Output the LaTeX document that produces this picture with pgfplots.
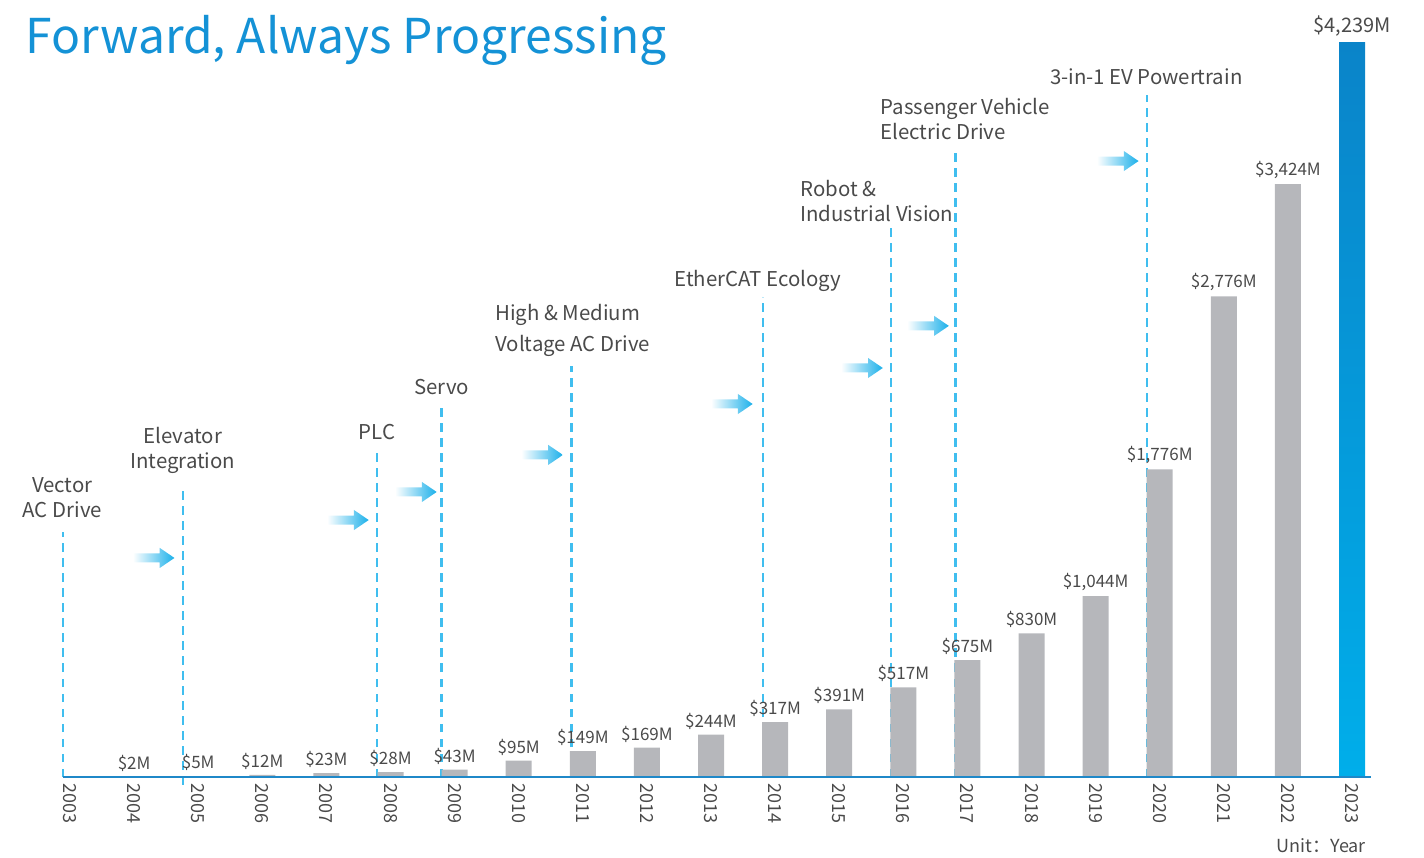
\documentclass[border=0pt]{standalone}
\usepackage{pgfplots}
\pgfplotsset{compat=1.18}
\usepackage{fontspec}
\setmainfont{Noto Sans CJK SC}

\definecolor{titleblue}{HTML}{1492D6}
\definecolor{bargray}{HTML}{B6B7BB}
\definecolor{dashcyan}{HTML}{40BEEF}
\definecolor{arrowcyan}{HTML}{1BB0EA}
\definecolor{basecol}{HTML}{1F88C8}
\definecolor{txt}{HTML}{4A4A4A}
\definecolor{topblue}{HTML}{0A84C9}
\definecolor{botblue}{HTML}{00AEEA}

\tikzset{lbl/.style={text=txt, font=\fontsize{10.2}{12.5}\selectfont}}

\begin{document}
\begin{tikzpicture}
\useasboundingbox (0,0) rectangle (712pt,428.5pt);
\begin{axis}[
    at={(0pt,40pt)}, anchor=south west,
    scale only axis,
    width=712pt, height=388.5pt,
    xmin=2001.908, xmax=2024.123,
    ymin=0, ymax=4487,
    clip=false,
    axis line style={draw=none},
    ytick=\empty,
    xtick={2003,2004,...,2023},
    xticklabels={2003,2004,2005,2006,2007,2008,2009,2010,2011,2012,2013,
        2014,2015,2016,2017,2018,2019,2020,2021,2022,2023},
    major tick length=0pt,
    xticklabel style={rotate=-90, anchor=west, inner sep=0pt,
        font=\fontsize{9}{10}\selectfont, text=txt},
    xticklabel shift=3pt,
]

% dashed milestone lines
\pgfplotsset{milestone/.style={dashcyan, line width=1.3pt, dash pattern=on 4.25pt off 3.25pt}}
\addplot[milestone] coordinates {(2002.89,0) (2002.89,1415)};
\addplot[milestone] coordinates {(2004.76,-45) (2004.76,1686)};
\addplot[milestone] coordinates {(2007.79,0) (2007.79,1900)};
\addplot[milestone] coordinates {(2008.80,0) (2008.80,2143)};
\addplot[milestone] coordinates {(2010.82,0) (2010.82,2374)};
\addplot[milestone] coordinates {(2013.81,0) (2013.81,2772)};
\addplot[milestone] coordinates {(2015.81,0) (2015.81,3170)};
\addplot[milestone] coordinates {(2016.81,0) (2016.81,3609)};
\addplot[milestone] coordinates {(2019.80,0) (2019.80,3939)};

% arrows
\pgfplotsset{arr/.style={draw=none, left color=white, right color=arrowcyan}}
\addplot[arr] coordinates {(2003.98,1239) (2004.40,1239) (2004.40,1207) (2004.63,1265) (2004.40,1323) (2004.40,1291) (2003.98,1291) (2003.98,1239)};
\addplot[arr] coordinates {(2007.01,1458) (2007.43,1458) (2007.43,1426) (2007.66,1484) (2007.43,1542) (2007.43,1510) (2007.01,1510) (2007.01,1458)};
\addplot[arr] coordinates {(2008.07,1620) (2008.49,1620) (2008.49,1588) (2008.72,1646) (2008.49,1704) (2008.49,1672) (2008.07,1672) (2008.07,1620)};
\addplot[arr] coordinates {(2010.04,1834) (2010.46,1834) (2010.46,1802) (2010.69,1860) (2010.46,1918) (2010.46,1886) (2010.04,1886) (2010.04,1834)};
\addplot[arr] coordinates {(2013.00,2128) (2013.42,2128) (2013.42,2096) (2013.65,2154) (2013.42,2212) (2013.42,2180) (2013.00,2180) (2013.00,2128)};
\addplot[arr] coordinates {(2015.03,2336) (2015.45,2336) (2015.45,2304) (2015.68,2362) (2015.45,2420) (2015.45,2388) (2015.03,2388) (2015.03,2336)};
\addplot[arr] coordinates {(2016.06,2579) (2016.48,2579) (2016.48,2547) (2016.71,2605) (2016.48,2663) (2016.48,2631) (2016.06,2631) (2016.06,2579)};
\addplot[arr] coordinates {(2019.02,3531) (2019.44,3531) (2019.44,3499) (2019.67,3557) (2019.44,3615) (2019.44,3583) (2019.02,3583) (2019.02,3531)};

% revenue bars
\addplot[ybar, bar width=13pt, bar shift=0pt, fill=bargray, draw=none,
    point meta=explicit symbolic, nodes near coords,
    every node near coord/.append style={font=\fontsize{8.5}{9}\selectfont, text=txt, inner sep=2.5pt}]
coordinates {
    (2004,2) [\$2M] (2005,5) [\$5M] (2006,12) [\$12M] (2007,23) [\$23M]
    (2008,28) [\$28M] (2009,43) [\$43M] (2010,95) [\$95M] (2011,149) [\$149M]
    (2012,169) [\$169M] (2013,244) [\$244M] (2014,317) [\$317M] (2015,391) [\$391M]
    (2016,517) [\$517M] (2017,675) [\$675M] (2018,830) [\$830M] (2019,1044) [\$1,044M]
    (2020,1776) [\$1,776M] (2021,2776) [\$2,776M] (2022,3424) [\$3,424M]
};
\addplot[ybar, bar width=13pt, bar shift=0pt, draw=none, top color=topblue, bottom color=botblue,
    point meta=explicit symbolic, nodes near coords,
    every node near coord/.append style={font=\fontsize{10}{11}\selectfont, text=txt, inner sep=3pt}]
coordinates {(2023,4239) [\$4,239M]};

% base line
\addplot[basecol, line width=0.6pt] coordinates {(2002.89,0) (2023.30,0)};

% milestone labels
\node[lbl, align=center] at (axis cs:2002.88,1611) {Vector\\AC Drive};
\node[lbl, align=center] at (axis cs:2004.76,1883) {Elevator\\Integration};
\node[lbl] at (axis cs:2007.79,1992) {PLC};
\node[lbl] at (axis cs:2008.80,2252) {Servo};
\node[lbl, anchor=west, align=left, inner sep=0pt, font=\fontsize{10.2}{15.5}\selectfont] at (axis cs:2009.63,2581) {High \& Medium\\Voltage AC Drive};
\node[lbl] at (axis cs:2013.73,2864) {EtherCAT Ecology};
\node[lbl, anchor=west, align=left, inner sep=0pt] at (axis cs:2014.39,3326) {Robot \&\\Industrial Vision};
\node[lbl, anchor=west, align=left, inner sep=0pt] at (axis cs:2015.64,3797) {Passenger Vehicle\\Electric Drive};
\node[lbl] at (axis cs:2019.79,4042) {3-in-1 EV Powertrain};

% title and unit
\node[anchor=west, inner sep=0pt, text=titleblue, font=\fontsize{24}{30}\selectfont] at (axis cs:2002.30,4256) {Forward, Always Progressing};
\node[text=txt, font=\fontsize{9}{10}\selectfont] at (axis cs:2022.52,-398) {Unit：Year};
\end{axis}
\end{tikzpicture}
\end{document}
